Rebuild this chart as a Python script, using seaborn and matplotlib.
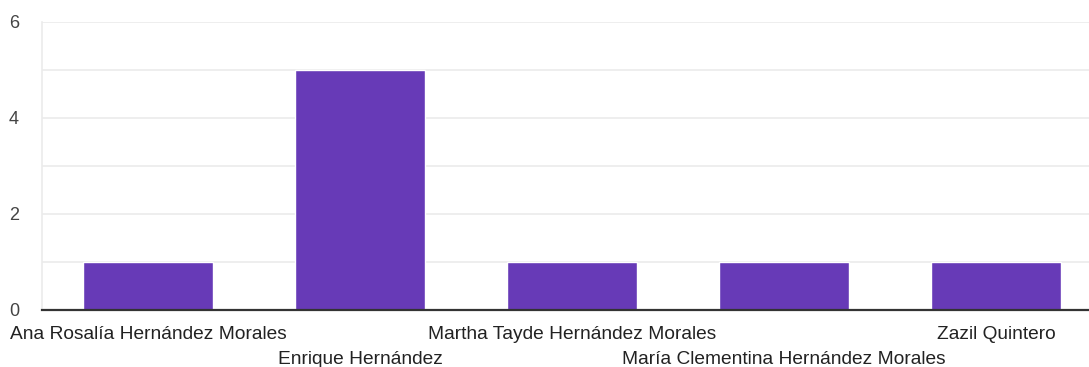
import matplotlib
matplotlib.use('Agg')
import matplotlib.pyplot as plt
import matplotlib.transforms as mtransforms
import seaborn as sns
import pandas as pd

# Respuestas por persona
names = [
    'Ana Rosalía Hernández Morales',
    'Enrique Hernández',
    'Martha Tayde Hernández Morales',
    'María Clementina Hernández Morales',
    'Zazil Quintero',
]
counts = [1, 5, 1, 1, 1]
y_ticks = [0, 2, 4, 6]

df = pd.DataFrame({'name': names, 'count': counts})

sns.set_style('white')
plt.rcParams['font.family'] = ['Liberation Sans', 'DejaVu Sans']

fig = plt.figure(figsize=(10.89, 3.67), dpi=100)
ax = fig.add_axes([42 / 1089, 57 / 367, 1047 / 1089, 288 / 367])

sns.barplot(data=df, x='name', y='count', color='#673ab7', width=0.615,
            saturation=1, ax=ax, zorder=3)

ax.set_xlim(-0.5, 4.5 - 13 / 212)
ax.set_ylim(0, 6)
ax.set_yticks(y_ticks)
ax.set_yticks(range(7), minor=True)
ax.grid(True, which='both', axis='y', color='#ebebeb', linewidth=1.2, zorder=0)
ax.tick_params(axis='y', which='both', length=0, pad=16.5, labelsize=13, labelcolor='#444444')

# etiquetas escalonadas en dos filas
ax.set_xticks(range(len(names)))
ax.set_xticklabels(names)
ax.tick_params(axis='x', length=0, pad=11.5, labelsize=13.8, labelcolor='#222222')
down = mtransforms.ScaledTranslation(0, -25 / 100, fig.dpi_scale_trans)
for i, lab in enumerate(ax.get_xticklabels()):
    if i % 2 == 1:
        lab.set_transform(lab.get_transform() + down)
ax.set_xlabel('')
ax.set_ylabel('')

for s in ['top', 'right']:
    ax.spines[s].set_visible(False)
ax.spines['left'].set_color('#ebebeb')
ax.spines['left'].set_linewidth(1.2)
ax.spines['bottom'].set_color('#333333')
ax.spines['bottom'].set_linewidth(1.6)
ax.spines['bottom'].set_zorder(5)

fig.savefig('out.png', dpi=100)
